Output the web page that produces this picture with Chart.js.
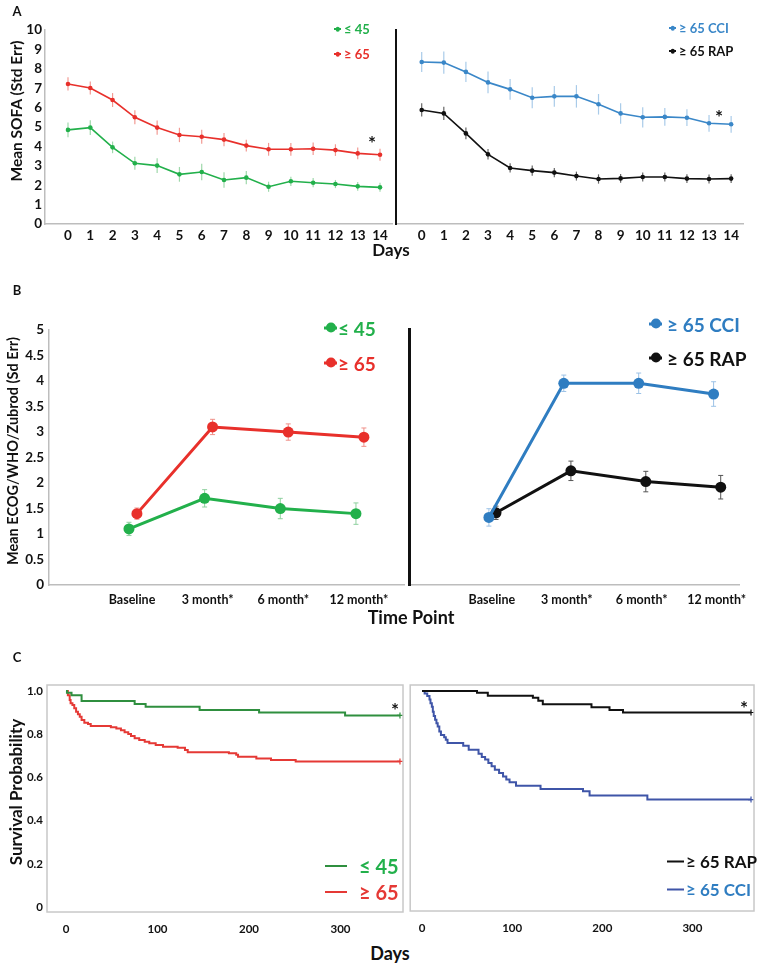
<!DOCTYPE html>
<html>
<head>
<meta charset="utf-8">
<script src="https://cdn.jsdelivr.net/npm/chart.js@4.4.1/dist/chart.umd.min.js"></script>
<style>
body{margin:0;background:#fff;}
#fig{position:relative;width:760px;height:966px;overflow:hidden;font-family:Lato,"Noto Sans",sans-serif;font-weight:bold;color:#111;}
canvas{position:absolute;}
.t{position:absolute;transform:translate(-50%,-50%);white-space:nowrap;}
.rot{transform:translate(-50%,-50%) rotate(-90deg);}
.lg{position:absolute;transform:translateY(-50%);white-space:nowrap;display:flex;align-items:center;}
.mk{position:relative;display:inline-block;}
.mk i{position:absolute;left:50%;top:50%;border-radius:50%;transform:translate(-50%,-50%);}
</style>
</head>
<body>
<div id="fig">
  <canvas id="cA1"></canvas>
  <canvas id="cA2"></canvas>
  <canvas id="cB1"></canvas>
  <canvas id="cB2"></canvas>
  <canvas id="cC1"></canvas>
  <canvas id="cC2"></canvas>
</div>
<script>
/* ===========================
   DATA
=========================== */

// A: mean SOFA by day
const days = [0, 1, 2, 3, 4, 5, 6, 7, 8, 9, 10, 11, 12, 13, 14];
const sofaYoung = [4.85, 4.97, 3.95, 3.13, 3.01, 2.56, 2.68, 2.27, 2.39, 1.92, 2.2, 2.13, 2.06, 1.94, 1.89];
const sofaYoungErr = [0.38, 0.38, 0.3, 0.34, 0.38, 0.38, 0.43, 0.4, 0.34, 0.26, 0.24, 0.24, 0.21, 0.23, 0.23];
const sofaOld = [7.22, 7.01, 6.39, 5.5, 4.97, 4.59, 4.5, 4.35, 4.04, 3.85, 3.85, 3.88, 3.81, 3.64, 3.57];
const sofaOldErr = [0.34, 0.34, 0.36, 0.36, 0.37, 0.37, 0.36, 0.34, 0.3, 0.33, 0.33, 0.32, 0.3, 0.3, 0.31];
const sofaCci = [8.35, 8.32, 7.84, 7.3, 6.94, 6.51, 6.58, 6.58, 6.17, 5.7, 5.5, 5.52, 5.48, 5.19, 5.14];
const sofaCciErr = [0.52, 0.57, 0.52, 0.56, 0.53, 0.54, 0.53, 0.58, 0.53, 0.53, 0.52, 0.46, 0.43, 0.43, 0.43];
const sofaRap = [5.88, 5.7, 4.67, 3.59, 2.89, 2.75, 2.65, 2.47, 2.32, 2.35, 2.42, 2.42, 2.34, 2.32, 2.34];
const sofaRapErr = [0.34, 0.34, 0.3, 0.27, 0.24, 0.26, 0.24, 0.23, 0.24, 0.23, 0.23, 0.23, 0.23, 0.23, 0.23];
const sofaTicks = [0, 1, 2, 3, 4, 5, 6, 7, 8, 9, 10];

// B: mean ECOG/WHO/Zubrod by time point
const timePoints = ['Baseline', '3 month*', '6 month*', '12 month*'];
const ecogYoung = [1.1, 1.7, 1.5, 1.4];
const ecogYoungErr = [0.13, 0.17, 0.2, 0.21];
const ecogOld = [1.4, 3.1, 3.0, 2.9];
const ecogOldErr = [0.11, 0.15, 0.16, 0.18];
const ecogCci = [1.32, 3.94, 3.94, 3.73];
const ecogCciErr = [0.17, 0.16, 0.2, 0.24];
const ecogRap = [1.41, 2.23, 2.02, 1.91];
const ecogRapErr = [0.13, 0.19, 0.2, 0.23];
const ecogTicks = [0, 0.5, 1, 1.5, 2, 2.5, 3, 3.5, 4, 4.5, 5];

// C: Kaplan-Meier survival
const kmYoungDays = [0, 1, 6, 17, 75, 87, 146, 211, 305, 365];
const kmYoungSurv = [1.0, 0.992, 0.981, 0.954, 0.94, 0.927, 0.912, 0.901, 0.887, 0.887];
const kmOldDays = [0, 2, 4, 5, 7, 9, 11, 13, 15, 17, 20, 24, 27, 49, 55, 60, 64, 68, 71, 75, 80, 86, 91, 98, 106, 122, 130, 133, 178, 186, 188, 208, 224, 251, 365];
const kmOldSurv = [1.0, 0.981, 0.958, 0.943, 0.935, 0.92, 0.904, 0.892, 0.881, 0.866, 0.853, 0.847, 0.838, 0.832, 0.827, 0.819, 0.809, 0.801, 0.792, 0.781, 0.773, 0.765, 0.758, 0.75, 0.742, 0.738, 0.727, 0.717, 0.712, 0.705, 0.696, 0.688, 0.681, 0.674, 0.674];
const kmRapDays = [0, 61, 73, 123, 129, 134, 188, 208, 223, 365];
const kmRapSurv = [1.0, 0.992, 0.978, 0.969, 0.955, 0.938, 0.924, 0.912, 0.9, 0.9];
const kmCciDays = [0, 2.9, 5.8, 8.3, 9.4, 10.9, 12, 13, 14.5, 16, 17.4, 19.2, 21, 24.6, 26.4, 28.3, 45.7, 51.8, 62.7, 66.3, 70, 73.6, 77.2, 80.8, 85.5, 89.9, 93.5, 97.1, 104.3, 131.5, 178.6, 185.9, 250, 365];
const kmCciSurv = [1.0, 0.989, 0.977, 0.961, 0.943, 0.927, 0.904, 0.884, 0.866, 0.85, 0.835, 0.812, 0.796, 0.785, 0.773, 0.758, 0.745, 0.727, 0.708, 0.693, 0.681, 0.665, 0.65, 0.634, 0.619, 0.603, 0.588, 0.576, 0.56, 0.544, 0.534, 0.514, 0.495, 0.495];
const survTicks = [0, 0.2, 0.4, 0.6, 0.8, 1.0];
const survTickLabels = ['0', '0.2', '0.4', '0.6', '0.8', '1.0'];
const kmDayTicks = [0, 100, 200, 300];


/* ===========================
   STYLE
=========================== */

const FONT = 'Lato, "Noto Sans", sans-serif';
Chart.defaults.font.family = FONT;
Chart.defaults.color = '#111';

const GREEN = '#22b04b', RED = '#e8302b', BLUE = '#3a87c8', BLACK = '#111';
const GREEN_C = '#2f8f3f', RED_C = '#e53935', BLUE_C = '#3f55a8';
const AXIS_GRAY = '#bdbdbd';


/* ===========================
   PLUGINS
=========================== */

const errorBars = {
    id: 'errorBars',
    beforeDatasetsDraw(chart) {
        const ctx = chart.ctx;
        const yScale = chart.scales.y;
        chart.data.datasets.forEach((ds, i) => {
            if (!ds.errors) return;
            const meta = chart.getDatasetMeta(i);
            ctx.save();
            ctx.strokeStyle = ds.errorColor;
            ctx.lineWidth = ds.errorWidth || 1;
            meta.data.forEach((pt, j) => {
                const v = ds.data[j].y, e = ds.errors[j];
                const top = yScale.getPixelForValue(v + e);
                const bot = yScale.getPixelForValue(v - e);
                ctx.beginPath();
                ctx.moveTo(pt.x, top);
                ctx.lineTo(pt.x, bot);
                if (ds.errorCap) {
                    ctx.moveTo(pt.x - ds.errorCap, top);
                    ctx.lineTo(pt.x + ds.errorCap, top);
                    ctx.moveTo(pt.x - ds.errorCap, bot);
                    ctx.lineTo(pt.x + ds.errorCap, bot);
                }
                ctx.stroke();
            });
            ctx.restore();
        });
    }
};

const frame = {
    id: 'frame',
    afterDraw(chart, args, opts) {
        if (!opts.color) return;
        const a = chart.chartArea;
        const ctx = chart.ctx;
        ctx.save();
        ctx.strokeStyle = opts.color;
        ctx.lineWidth = 1.5;
        ctx.strokeRect(a.left, a.top, a.right - a.left, a.bottom - a.top);
        ctx.restore();
    }
};

Chart.register(errorBars, frame);


/* ===========================
   HELPERS
=========================== */

function pts(xs, ys, shift) {
    return ys.map((v, i) => ({ x: xs[i] + (shift || 0), y: v }));
}

function axisOpts(o) {
    return {
        type: 'linear',
        min: o.min,
        max: o.max,
        display: true,
        grid: { display: false, drawTicks: false },
        border: { display: o.border !== false, color: o.borderColor || AXIS_GRAY, width: o.borderWidth || 1.5 },
        afterBuildTicks: s => { s.ticks = o.ticks.map(v => ({ value: v })); },
        afterFit: s => { if (o.w !== undefined) s.width = o.w; if (o.h !== undefined) s.height = o.h; },
        ticks: {
            display: o.showTicks !== false,
            autoSkip: false,
            maxRotation: 0,
            padding: o.pad,
            color: '#111',
            font: { size: o.fs, weight: 'bold' },
            callback: o.label || (v => v)
        }
    };
}

// box = chart area in page pixels; yW / xH = room for the axes
function makeChart(id, box, yW, xH, datasets, xOpts, yOpts, frameColor) {
    const c = document.getElementById(id);
    const padT = 12, padR = 14;
    c.width = box.r - box.l + yW + padR;
    c.height = box.b - box.t + padT + xH;
    c.style.left = (box.l - yW) + 'px';
    c.style.top = (box.t - padT) + 'px';
    xOpts.h = xH;
    yOpts.w = yW;
    return new Chart(c, {
        type: 'line',
        data: { datasets: datasets },
        options: {
            responsive: false,
            animation: false,
            layout: { padding: { top: padT, right: padR, left: 0, bottom: 0 } },
            plugins: {
                legend: { display: false },
                tooltip: { enabled: false },
                frame: { color: frameColor }
            },
            scales: { x: axisOpts(xOpts), y: axisOpts(yOpts) }
        }
    });
}

function sofaSet(vals, errs, color, errColor) {
    return {
        data: pts(days, vals),
        errors: errs,
        errorColor: errColor,
        errorWidth: 1.2,
        borderColor: color,
        backgroundColor: color,
        borderWidth: 1.6,
        pointRadius: 2.3,
        pointBorderWidth: 0,
        tension: 0
    };
}

function ecogSet(vals, errs, color, errColor, shift) {
    return {
        data: pts([0, 1, 2, 3], vals, shift),
        errors: errs,
        errorColor: errColor,
        errorWidth: 1,
        errorCap: 2.5,
        borderColor: color,
        backgroundColor: color,
        borderWidth: 3,
        pointRadius: 5.5,
        pointBorderWidth: 0,
        tension: 0
    };
}

function kmSet(xs, ys, color) {
    const n = ys.length;
    return {
        data: pts(xs, ys),
        stepped: true,
        borderColor: color,
        backgroundColor: color,
        borderWidth: 2,
        pointStyle: 'cross',
        pointBorderWidth: 1.2,
        pointRadius: ctx => (ctx.dataIndex === n - 1 ? 3 : 0)
    };
}


/* ===========================
   PANEL A
=========================== */

makeChart('cA1', { l: 45, r: 392, t: 30, b: 224 }, 45, 26,
    [sofaSet(sofaYoung, sofaYoungErr, GREEN, '#9fd8ab'),
     sofaSet(sofaOld, sofaOldErr, RED, '#f29a93')],
    { min: -1.032, max: 14.538, ticks: days, pad: 4, fs: 13.5 },
    { min: 0, max: 10, ticks: sofaTicks, pad: 3, fs: 13.5 });

makeChart('cA2', { l: 392, r: 743, t: 30, b: 224 }, 0, 26,
    [sofaSet(sofaCci, sofaCciErr, BLUE, '#a9cbe9'),
     sofaSet(sofaRap, sofaRapErr, BLACK, '#666')],
    { min: -1.163, max: 14.537, ticks: days, pad: 4, fs: 13.5 },
    { min: 0, max: 10, ticks: sofaTicks, showTicks: false, borderColor: '#111', borderWidth: 2, pad: 0, fs: 13 });


/* ===========================
   PANEL B
=========================== */

makeChart('cB1', { l: 49, r: 404, t: 329, b: 585 }, 49, 28,
    [ecogSet(ecogYoung, ecogYoungErr, GREEN, '#8fd19f', -0.04),
     ecogSet(ecogOld, ecogOldErr, RED, '#f09089', 0.065)],
    { min: -1.097, max: 3.595, ticks: [0, 1, 2, 3], pad: 7, fs: 12.5, label: v => timePoints[v] },
    { min: 0, max: 5, ticks: ecogTicks, pad: 5, fs: 13.5 });

makeChart('cB2', { l: 404, r: 740, t: 329, b: 585 }, 0, 28,
    [ecogSet(ecogCci, ecogCciErr, '#2f7dc1', '#9cc2e6', -0.04),
     ecogSet(ecogRap, ecogRapErr, BLACK, '#555', 0.055)],
    { min: -1.10, max: 3.30, ticks: [0, 1, 2, 3], pad: 7, fs: 12.5, label: v => timePoints[v] },
    { min: 0, max: 5, ticks: ecogTicks, showTicks: false, borderColor: '#111', borderWidth: 3, pad: 0, fs: 13 });


/* ===========================
   PANEL C
=========================== */

makeChart('cC1', { l: 47, r: 403, t: 685, b: 912 }, 47, 26,
    [kmSet(kmYoungDays, kmYoungSurv, GREEN_C),
     kmSet(kmOldDays, kmOldSurv, RED_C)],
    { min: -20.8, max: 368.3, ticks: kmDayTicks, pad: 10, fs: 11.5, border: false },
    { min: -0.023, max: 1.028, ticks: survTicks, pad: 4, fs: 11.5, border: false,
      label: v => survTickLabels[survTicks.indexOf(v)] },
    '#c8c8c8');

makeChart('cC2', { l: 405, r: 754, t: 685, b: 911 }, 0, 26,
    [kmSet(kmRapDays, kmRapSurv, BLACK),
     kmSet(kmCciDays, kmCciSurv, BLUE_C)],
    { min: -13.1, max: 368.3, ticks: kmDayTicks, pad: 10, fs: 11.5, border: false },
    { min: -0.023, max: 1.028, ticks: survTicks, showTicks: false, border: false, pad: 0, fs: 11.5 },
    '#c8c8c8');


/* ===========================
   TEXT & LEGENDS
=========================== */

const fig = document.getElementById('fig');

function text(str, x, y, size, color, rotate) {
    const d = document.createElement('div');
    d.className = 't' + (rotate ? ' rot' : '');
    d.textContent = str;
    d.style.left = x + 'px';
    d.style.top = y + 'px';
    d.style.fontSize = size + 'px';
    d.style.color = color || '#111';
    fig.appendChild(d);
}

// kind: 'dot' = line with a dot, 'line' = plain line
function legend(str, x, y, size, color, textColor, kind, mkW, dot, gap) {
    const d = document.createElement('div');
    d.className = 'lg';
    d.style.left = x + 'px';
    d.style.top = y + 'px';
    d.style.fontSize = size + 'px';
    d.style.color = textColor;
    const mk = document.createElement('span');
    mk.className = 'mk';
    mk.style.width = mkW + 'px';
    mk.style.height = (kind === 'line' ? 2 : Math.max(2, dot / 3)) + 'px';
    mk.style.background = color;
    mk.style.marginRight = gap + 'px';
    if (kind === 'dot') {
        const i = document.createElement('i');
        i.style.width = dot + 'px';
        i.style.height = dot + 'px';
        i.style.background = color;
        mk.appendChild(i);
    }
    d.appendChild(mk);
    d.appendChild(document.createTextNode(str));
    fig.appendChild(d);
}

// panel letters
text('A', 17, 11, 13);
text('B', 17, 290, 13);
text('C', 17, 657, 13);

// axis titles
text('Mean SOFA (Std Err)', 16, 111, 15.5, '#111', true);
text('Days', 391, 249, 17);
text('Mean ECOG/WHO/Zubrod (Sd Err)', 12, 451, 14.5, '#111', true);
text('Time Point', 411, 617, 18);
text('Survival Probability', 15, 792, 17, '#111', true);
text('Days', 390, 953, 18);

// significance marks
text('*', 372, 142, 19);
text('*', 719, 116, 19);
text('*', 395, 709, 19);
text('*', 744, 707, 19);

// legends
legend('≤ 45', 334, 29, 13, GREEN, GREEN, 'dot', 7, 4.5, 3);
legend('≥ 65', 334, 54, 13, RED, RED, 'dot', 7, 4.5, 3);
legend('≥ 65 CCI', 669, 28, 13, BLUE, BLUE, 'dot', 7, 4.5, 3);
legend('≥ 65 RAP', 669, 51, 13, BLACK, BLACK, 'dot', 7, 4.5, 3);

legend('≤ 45', 324, 328, 19, GREEN, GREEN, 'dot', 13, 10, 1);
legend('≥ 65', 324, 363, 19, RED, RED, 'dot', 13, 10, 1);
legend('≥ 65 CCI', 649, 324, 19, '#2f7dc1', '#2f7dc1', 'dot', 13, 10, 5);
legend('≥ 65 RAP', 649, 358, 19, BLACK, BLACK, 'dot', 13, 10, 5);

legend('≤ 45', 325, 866, 20, GREEN_C, '#22b04b', 'line', 22, 0, 12);
legend('≥ 65', 325, 892, 20, RED_C, RED_C, 'line', 22, 0, 12);
legend('≥ 65 RAP', 667, 861, 17, BLACK, BLACK, 'line', 17, 0, 2);
legend('≥ 65 CCI', 667, 889, 17, BLUE_C, '#2f7dc1', 'line', 17, 0, 2);
</script>
</body>
</html>
